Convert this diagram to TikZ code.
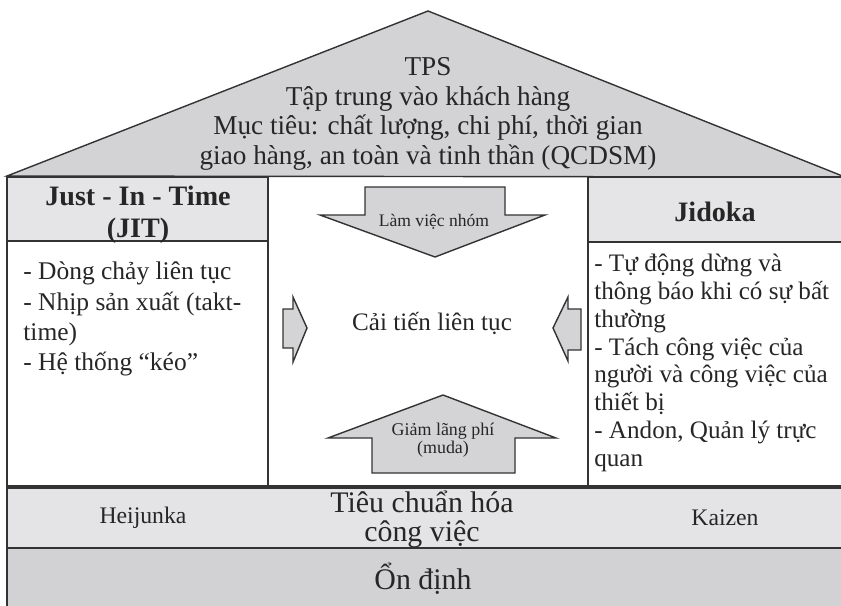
\documentclass[tikz,border=0pt]{standalone}
\usepackage{fontspec}
\setmainfont{Liberation Serif}
\usepackage{tikz}
\usetikzlibrary{positioning}

\definecolor{roofgray}{HTML}{D3D3D5}
\definecolor{headgray}{HTML}{E5E5E7}
\definecolor{bandgray}{HTML}{E4E4E6}
\definecolor{basegray}{HTML}{D2D2D4}
\definecolor{arrowgray}{HTML}{D4D4D6}

\begin{document}
\begin{tikzpicture}[x=0.02cm,y=-0.02cm,
    frame/.style={draw=black!80,line width=0.8pt},
    blockarrow/.style={draw=black!80,line width=0.8pt,fill=arrowgray,line join=miter},
    txt/.style={text=black!85,align=center,inner sep=0pt},
    listtxt/.style={text=black!85,align=left,inner sep=0pt,anchor=west}]
  \useasboundingbox (0,0) rectangle (841,605);

  % roof
  \draw[frame,fill=roofgray] (7,176) -- (428,11) -- (845,177) -- cycle;

  % pillars
  \draw[frame,fill=headgray] (7,177) rectangle (268,241);
  \draw[frame] (7,241) rectangle (268,486);
  \draw[frame] (268,486) -- (588,486);
  \draw[frame,fill=headgray] (588,177) rectangle (845,242);
  \draw[frame] (588,242) -- (588,486) -- (845,486);

  % foundation
  \draw[frame,fill=bandgray] (7,488) rectangle (845,548);
  \draw[frame,fill=basegray] (7,548) rectangle (845,610);

  % block arrows
  \draw[blockarrow] (365,187) -- (505,187) -- (505,215) -- (545,215) -- (435,257)
                    -- (320,215) -- (365,215) -- cycle;
  \draw[blockarrow] (443,395) -- (556,438) -- (515,438) -- (515,473) -- (372,473)
                    -- (372,438) -- (328,438) -- cycle;
  \draw[blockarrow] (283,309) -- (293,309) -- (293,297) -- (307,328) -- (293,362)
                    -- (293,348) -- (283,348) -- cycle;
  \draw[blockarrow] (581,309) -- (568,309) -- (568,297) -- (553,328) -- (568,361)
                    -- (568,350) -- (581,350) -- cycle;

  % texts
  \node[txt,font=\fontsize{15.5}{16.8}\selectfont] (tps) at (428,114)
    {TPS\\Tập trung vào khách hàng\\Mục tiêu: chất lượng, chi phí, thời gian\\giao hàng, an toàn và tinh thần (QCDSM)};
  \node[txt,font=\bfseries\fontsize{16}{18.2}\selectfont] (jit) at (138,215) {Just - In - Time\\(JIT)};
  \node[listtxt,font=\fontsize{14.5}{17.2}\selectfont] (jitlist) at (23,319)
    {- Dòng chảy liên tục\\- Nhịp sản xuất (takt-\\time)\\- Hệ thống “kéo”};
  \node[txt,font=\bfseries\fontsize{16}{18}\selectfont] (jidoka) at (715,212) {Jidoka};
  \node[listtxt,font=\fontsize{14.3}{15.8}\selectfont] (jidokalist) at (594,363)
    {- Tự động dừng và\\thông báo khi có sự bất\\thường\\- Tách công việc của\\người và công việc của\\thiết bị\\- Andon, Quản lý trực\\quan};
  \node[txt,font=\fontsize{10}{11}\selectfont] (nhom) at (434,222) {Làm việc nhóm};
  \node[txt,font=\fontsize{14.3}{16}\selectfont] (caitien) at (432,323) {Cải tiến liên tục};
  \node[txt,font=\fontsize{10.2}{8.8}\selectfont] (muda) at (443,440) {Giảm lãng phí\\(muda)};
  \node[txt,font=\fontsize{13.5}{15}\selectfont] (heijunka) at (143,518) {Heijunka};
  \node[txt,font=\fontsize{17}{16.5}\selectfont] (tieuchuan) at (422,519) {Tiêu chuẩn hóa\\công việc};
  \node[txt,font=\fontsize{13.5}{15}\selectfont] (kaizen) at (725,518) {Kaizen};
  \node[txt,font=\fontsize{17}{18}\selectfont] (ondinh) at (423,579) {Ổn định};
\end{tikzpicture}
\end{document}
